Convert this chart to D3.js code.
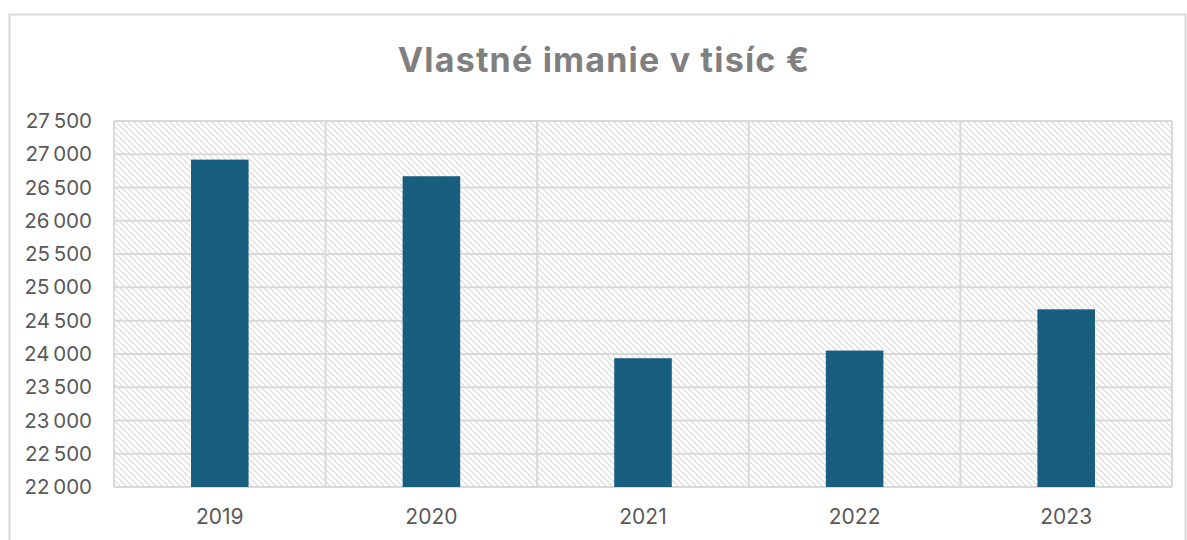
<!DOCTYPE html>
<html>
<head>
<meta charset="utf-8">
<script src="https://d3js.org/d3.v7.min.js"></script>
<style>
  body { margin: 0; background: #fff; }
  svg { display: block; }
</style>
</head>
<body>
<div id="chart"></div>
<script>
  // data
  var years = ["2019", "2020", "2021", "2022", "2023"];
  var equity = [26920, 26670, 23935, 24050, 24670];
  var yTicks = [22000, 22500, 23000, 23500, 24000, 24500, 25000, 25500, 26000, 26500, 27000, 27500];

  var W = 1187, H = 540;
  var margin = {left: 114, top: 121, right: 1187 - 1172, bottom: 540 - 487};

  var svg = d3.select("#chart")
              .append("svg")
              .attr("width", W)
              .attr("height", H);

  // hatch pattern for the plot area
  var pat = svg.append("defs").append("pattern")
               .attr("id", "hatch")
               .attr("patternUnits", "userSpaceOnUse")
               .attr("width", 6)
               .attr("height", 6);
  pat.append("rect").attr("width", 6).attr("height", 6).attr("fill", "#fff");
  pat.append("path")
     .attr("d", "M-1,-1 L7,7 M-4,2 L4,10 M2,-4 L10,4")
     .attr("stroke", "#d9d9d9")
     .attr("stroke-width", 1.1);

  // outer frame
  svg.append("rect")
     .attr("x", 9.5).attr("y", 14.5)
     .attr("width", 1176).attr("height", 560)
     .attr("fill", "none")
     .attr("stroke", "#d9d9d9")
     .attr("stroke-width", 2);

  var x = d3.scaleBand()
            .domain(years)
            .range([margin.left, W - margin.right]);

  var y = d3.scaleLinear()
            .domain([22000, 27500])
            .range([H - margin.bottom, margin.top]);

  svg.append("rect")
     .attr("x", margin.left).attr("y", margin.top)
     .attr("width", W - margin.right - margin.left)
     .attr("height", H - margin.bottom - margin.top)
     .attr("fill", "url(#hatch)");

  // horizontal grid
  svg.append("g")
     .selectAll("line")
     .data(yTicks)
     .enter()
     .append("line")
     .attr("x1", margin.left).attr("x2", W - margin.right)
     .attr("y1", function(d){ return y(d); })
     .attr("y2", function(d){ return y(d); })
     .attr("stroke", "#d9d9d9")
     .attr("stroke-width", 2);

  // vertical grid at category borders
  var borders = years.map(function(d){ return x(d); }).concat([W - margin.right]);
  svg.append("g")
     .selectAll("line")
     .data(borders)
     .enter()
     .append("line")
     .attr("x1", function(d){ return d; }).attr("x2", function(d){ return d; })
     .attr("y1", margin.top).attr("y2", H - margin.bottom)
     .attr("stroke", "#d9d9d9")
     .attr("stroke-width", 2);

  // bars
  var barW = x.bandwidth() * 0.272;
  svg.append("g")
     .selectAll("rect")
     .data(equity)
     .enter()
     .append("rect")
     .attr("x", function(d, i){ return x(years[i]) + x.bandwidth() / 2 - barW / 2; })
     .attr("y", function(d){ return y(d); })
     .attr("width", barW)
     .attr("height", function(d){ return y(22000) - y(d); })
     .attr("fill", "#175e7f");

  var fmt = function(d){ return d3.format(",")(d).replace(",", "\u2009"); };

  // y axis
  var yAxis = svg.append("g")
                 .attr("transform", "translate(" + (margin.left - 22) + ",0)")
                 .call(d3.axisLeft(y).tickValues(yTicks).tickSize(0).tickFormat(fmt));
  yAxis.select(".domain").remove();
  yAxis.selectAll("text")
       .attr("x", 0)
       .attr("font-family", "Inter, 'Open Sans', sans-serif")
       .attr("font-size", 20.5)
       .attr("fill", "#595959");

  // x axis
  var xAxis = svg.append("g")
                 .attr("transform", "translate(0," + (H - margin.bottom) + ")")
                 .call(d3.axisBottom(x).tickSize(0).tickPadding(22));
  xAxis.select(".domain").remove();
  xAxis.selectAll("text")
       .attr("font-family", "Inter, 'Open Sans', sans-serif")
       .attr("font-size", 21)
       .attr("fill", "#595959");

  // title
  svg.append("text")
     .attr("x", 604)
     .attr("y", 72)
     .attr("text-anchor", "middle")
     .attr("font-family", "Inter, 'Open Sans', sans-serif")
     .attr("font-weight", "bold")
     .attr("font-size", 34)
     .attr("letter-spacing", 1.2)
     .attr("fill", "#7f7f7f")
     .text("Vlastné imanie v tisíc €");
</script>
</body>
</html>
